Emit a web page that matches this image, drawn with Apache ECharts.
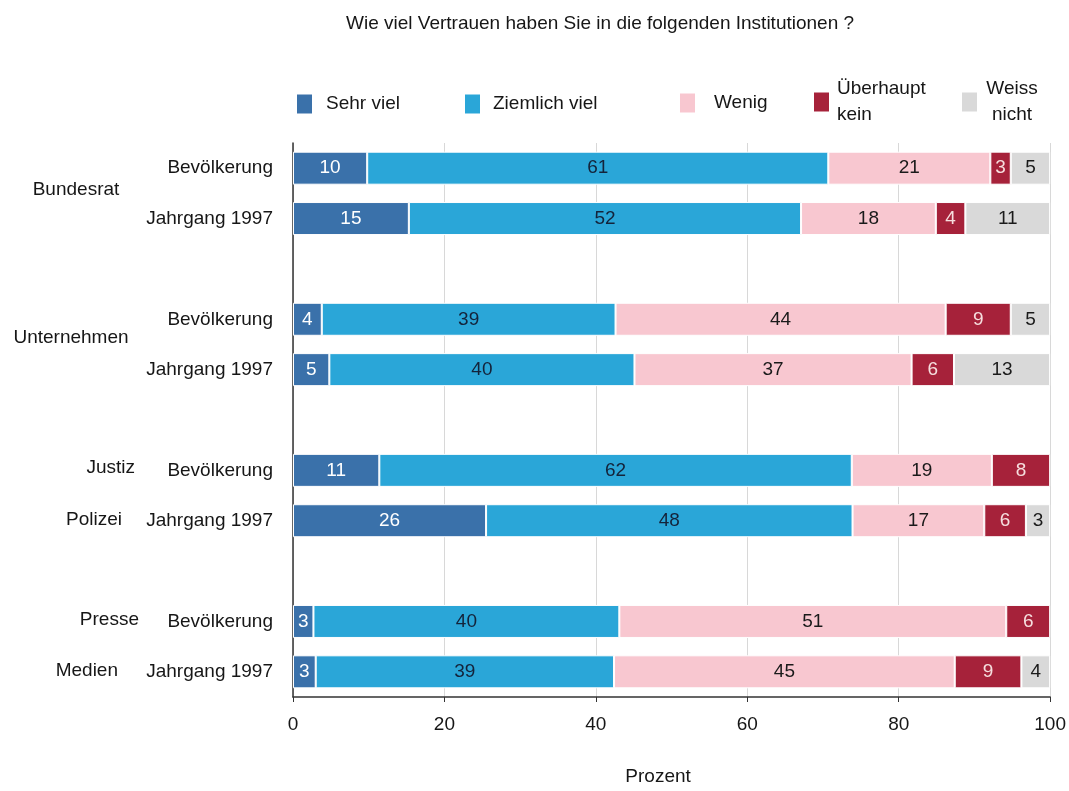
<!DOCTYPE html>
<html>
<head>
<meta charset="utf-8">
<script src="https://cdn.jsdelivr.net/npm/echarts@6/dist/echarts.min.js"></script>
<style>html,body{margin:0;padding:0;background:#fff;}#c{width:1069px;height:791px;}</style>
</head>
<body>
<div id="c"></div>
<script>
// Rows (top to bottom); '' = spacer row between groups
const rowLabels = ['Bevölkerung', 'Jahrgang 1997', '', 'Bevölkerung', 'Jahrgang 1997', '', 'Bevölkerung', 'Jahrgang 1997', '', 'Bevölkerung', 'Jahrgang 1997'];
const seriesNames = ['Sehr viel', 'Ziemlich viel', 'Wenig', 'Überhaupt kein', 'Weiss nicht'];
const sehrViel     = [9.8, 15.3, null, 3.8, 4.8, null, 11.4, 25.5, null, 2.7, 3.0];
const ziemlichViel = [60.9, 51.8, null, 38.8, 40.3, null, 62.4, 48.4, null, 40.4, 39.4];
const wenig        = [21.4, 17.8, null, 43.6, 36.6, null, 18.5, 17.4, null, 51.1, 45.0];
const ueberhaupt   = [2.7, 3.9, null, 8.6, 5.6, null, 7.7, 5.5, null, 5.8, 8.8];
const weissNicht   = [5.2, 11.2, null, 5.2, 12.7, null, null, 3.2, null, null, 3.8];
const xTicks = [0, 20, 40, 60, 80, 100];
const groupLabels = ['Bundesrat', 'Unternehmen', 'Justiz', 'Polizei', 'Presse', 'Medien'];

const colors = ['#3a71aa', '#2aa6d8', '#f8c7d0', '#a6223a', '#d9d9d9'];
const labelColors = ['#ffffff', '#14233a', '#1a1a1a', '#f6dede', '#1a1a1a'];
const TXT = '#161616';
const FONT = 'Liberation Sans, Arial, sans-serif';
const allData = [sehrViel, ziemlichViel, wenig, ueberhaupt, weissNicht];

const chart = echarts.init(document.getElementById('c'), null, {renderer: 'canvas'});

const legendPos = [
  {left: 295, top: 91, pad: 8},
  {left: 463, top: 91, pad: 7},
  {left: 678, top: 90, pad: 13},
  {left: 812, top: 76, pad: 2},
  {left: 960, top: 76, pad: 0}
];

const legends = seriesNames.map((n, i) => {
  const l = {
    data: [n],
    left: legendPos[i].left,
    top: legendPos[i].top,
    padding: 0,
    itemWidth: 17,
    itemHeight: 21,
    icon: 'rect',
    selectedMode: false,
    textStyle: {fontSize: 19, fontFamily: FONT, color: TXT, padding: [0, 0, 0, legendPos[i].pad], lineHeight: 26}
  };
  if (i === 3) l.formatter = () => 'Überhaupt\nkein';
  if (i === 4) {
    l.formatter = () => '{w|Weiss}\n{w|nicht}';
    l.textStyle.rich = {w: {width: 58, align: 'center', fontSize: 19, fontFamily: FONT, color: TXT, lineHeight: 26}};
  }
  return l;
});

const series = seriesNames.map((n, i) => ({
  name: n,
  type: 'bar',
  stack: 'total',
  barWidth: 33,
  data: allData[i],
  itemStyle: {color: colors[i], borderColor: '#ffffff', borderWidth: 1},
  label: {
    show: true,
    position: 'inside',
    fontSize: 19,
    fontFamily: FONT,
    color: labelColors[i],
    formatter: p => (p.value == null ? '' : String(Math.round(p.value)))
  },
  emphasis: {disabled: true}
}));

const groupPos = [
  {x: 76, y: 190, align: 'center'},
  {x: 71, y: 338, align: 'center'},
  {x: 135, y: 468, align: 'right'},
  {x: 122, y: 520, align: 'right'},
  {x: 139, y: 620, align: 'right'},
  {x: 118, y: 671, align: 'right'}
];

chart.setOption({
  animation: false,
  title: {
    text: 'Wie viel Vertrauen haben Sie in die folgenden Institutionen ?',
    left: 341,
    top: 9,
    textStyle: {fontSize: 19, fontWeight: 'normal', fontFamily: FONT, color: TXT}
  },
  legend: legends,
  grid: {left: 293, right: 18, top: 143, bottom: 94, containLabel: false},
  xAxis: {
    type: 'value',
    min: xTicks[0],
    max: xTicks[xTicks.length - 1],
    interval: 20,
    name: 'Prozent',
    nameLocation: 'middle',
    nameGap: 70,
    nameTextStyle: {fontSize: 19, fontFamily: FONT, color: TXT, padding: [0, 27, 0, 0]},
    axisLine: {show: true, lineStyle: {color: '#333', width: 1.5}},
    axisTick: {show: true, length: 5, lineStyle: {color: '#333'}},
    axisLabel: {fontSize: 19, fontFamily: FONT, color: TXT, margin: 18},
    splitLine: {show: true, lineStyle: {color: '#d8d8d8', width: 1}}
  },
  yAxis: {
    type: 'category',
    inverse: true,
    data: rowLabels,
    axisLine: {show: true, lineStyle: {color: '#333', width: 1.5}},
    axisTick: {show: false},
    axisLabel: {fontSize: 19, fontFamily: FONT, color: TXT, margin: 20},
    splitLine: {show: false}
  },
  series: series,
  graphic: groupLabels.map((t, i) => ({
    type: 'text',
    x: groupPos[i].x,
    y: groupPos[i].y,
    style: {text: t, fontSize: 19, fontFamily: FONT, fill: TXT, align: groupPos[i].align, verticalAlign: 'middle'}
  }))
});
</script>
</body>
</html>
